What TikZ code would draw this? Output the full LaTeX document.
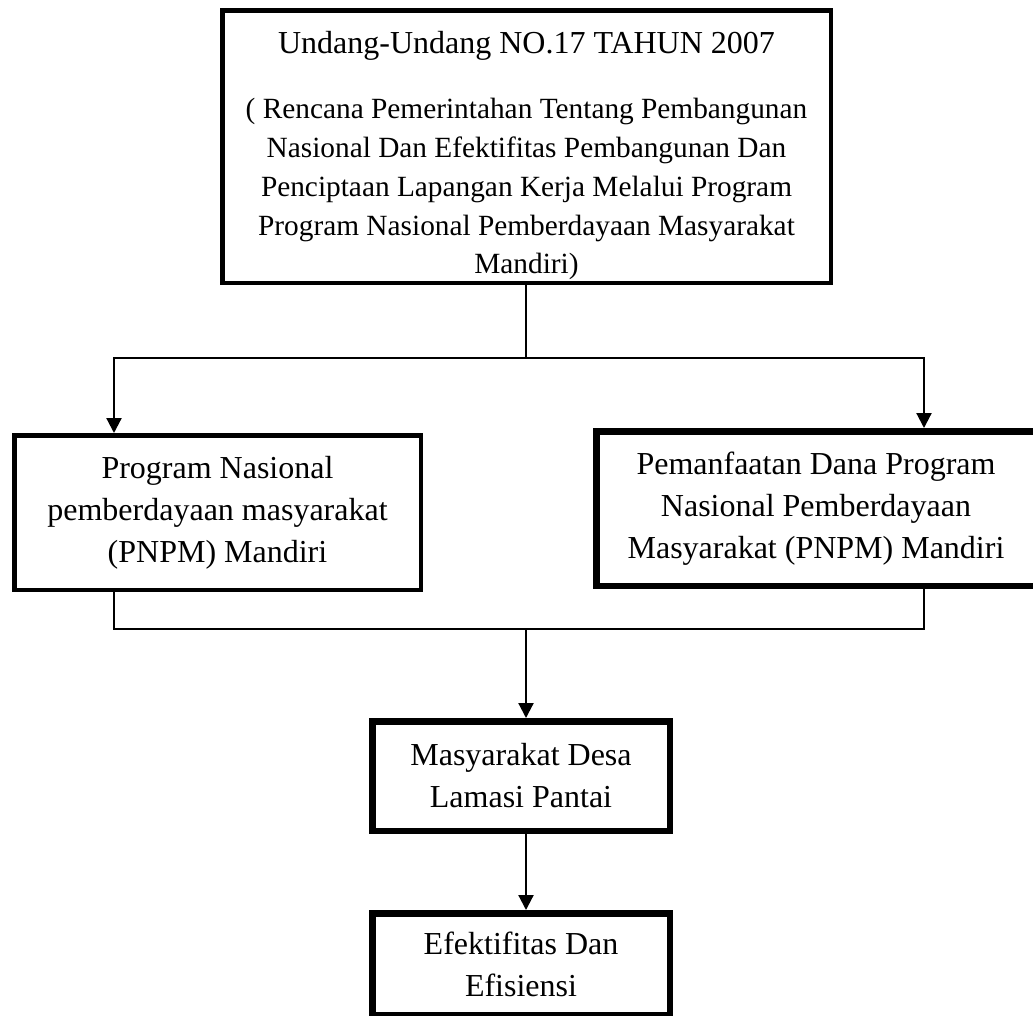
\documentclass[tikz,border=0pt]{standalone}
\usepackage{fontspec}
\setmainfont{Liberation Serif}
\usetikzlibrary{arrows.meta}

\begin{document}
\begin{tikzpicture}[x=1pt, y=-1pt,
            lawbox/.style={draw, line width=4.5pt, align=center, inner sep=0pt, font=\fontsize{29.33}{38.75}\selectfont},
            thinbox/.style={draw, line width=4.5pt, align=center, inner sep=0pt, font=\fontsize{32}{42}\selectfont},
            thickbox/.style={draw, line width=6.5pt, align=center, inner sep=0pt, font=\fontsize{32}{42}\selectfont},
            link/.style={line width=2.2pt},
            flow/.style={line width=2.2pt, -{Triangle[length=15pt, width=15pt]}}
        ]
            % page
            \useasboundingbox (0, 0) rectangle (1033, 1015);
            \clip (0, 0) rectangle (1033, 1015);

            % boxes
            \node[lawbox, minimum width=608.5pt, minimum height=272.5pt] (uu) at (526.5, 146.5) {\rule{0pt}{40pt}{\fontsize{32}{38.75}\selectfont Undang-Undang NO.17 TAHUN 2007}\\[27pt]( Rencana Pemerintahan Tentang Pembangunan\\Nasional Dan Efektifitas Pembangunan Dan\\Penciptaan Lapangan Kerja Melalui Program\\Program Nasional Pemberdayaan Masyarakat\\Mandiri)};
            \node[thinbox, minimum width=406.5pt, minimum height=154.5pt] (pnpm) at (217.5, 512.5) {Program Nasional\\pemberdayaan masyarakat\\(PNPM) Mandiri};
            \node[thickbox, minimum width=439.5pt, minimum height=154.5pt] (dana) at (816, 508.5) {Pemanfaatan Dana Program\\Nasional Pemberdayaan\\Masyarakat (PNPM) Mandiri};
            \node[thickbox, minimum width=297.5pt, minimum height=109.5pt] (desa) at (521, 776) {Masyarakat Desa\\Lamasi Pantai};
            \node[thickbox, minimum width=297.5pt, minimum height=101.5pt] (hasil) at (521, 964) {Efektifitas Dan\\Efisiensi};

            % junctions
            \coordinate (split) at (526, 358);
            \coordinate (lleg) at (114, 358);
            \coordinate (rleg) at (924, 358);
            \coordinate (merge) at (526, 629);

            % connectors
            \draw[link] (uu.south -| split) -- (split);
            \draw[flow] (split) -| (pnpm.north -| lleg);
            \draw[flow] (split) -| (dana.north -| rleg);
            \draw[link] (pnpm.south -| lleg) |- (merge) -| (dana.south -| rleg);
            \draw[flow] (merge) -- (desa.north -| merge);
            \draw[flow] (desa.south -| merge) -- (hasil.north -| merge);

        \end{tikzpicture}
\end{document}
